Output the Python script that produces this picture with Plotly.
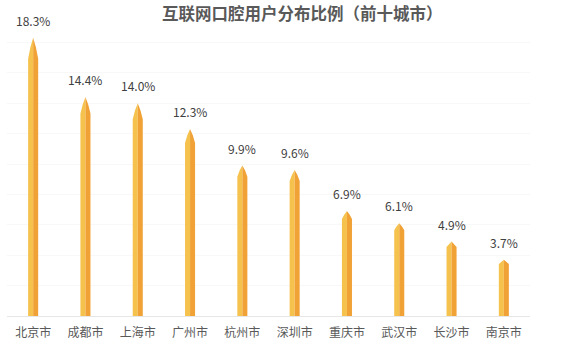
import plotly.graph_objects as go

cities = ["北京市", "成都市", "上海市", "广州市", "杭州市", "深圳市", "重庆市", "武汉市", "长沙市", "南京市"]
shares = [18.3, 14.4, 14.0, 12.3, 9.9, 9.6, 6.9, 6.1, 4.9, 3.7]
value_labels = ["18.3%", "14.4%", "14.0%", "12.3%", "9.9%", "9.6%", "6.9%", "6.1%", "4.9%", "3.7%"]

HALF = 0.096      # half bar width in category units
TIP = 0.075       # fraction of bar height used for the pointed top

def half_polys(side):
    xs, ys = [], []
    for i, v in enumerate(shares):
        s = v * (1 - TIP)
        edge = i - HALF if side == "left" else i + HALF
        mid_x = i + (edge - i) * 0.55
        xs += [i, edge, edge, mid_x, i, i, None]
        ys += [0, 0, s, s + (v - s) * 0.55, v, 0, None]
    return xs, ys

fig = go.Figure()
for side, color in (("left", "#f6c24e"), ("right", "#f0a236")):
    xs, ys = half_polys(side)
    fig.add_trace(go.Scatter(x=xs, y=ys, fill="toself", fillcolor=color,
                             mode="lines", line=dict(width=0, color=color),
                             hoverinfo="skip", showlegend=False))

for i, (v, t) in enumerate(zip(shares, value_labels)):
    fig.add_annotation(x=i, y=v, text=t, showarrow=False, yanchor="bottom",
                       yshift=7, font=dict(size=12, color="#404040",
                                           family="Noto Sans CJK SC"))

fig.update_layout(
    width=568, height=348,
    margin=dict(l=7, r=38, t=12, b=32),
    paper_bgcolor="white", plot_bgcolor="white",
    title=dict(text="<b>互联网口腔用户分布比例（前十城市）</b>",
               x=0.532, xanchor="center", xref="container",
               y=0.96, yanchor="middle", yref="container",
               font=dict(size=16.5, color="#595959", family="Noto Sans CJK SC")),
    xaxis=dict(range=[-0.5, 9.5], tickvals=list(range(len(cities))),
               ticktext=cities, showgrid=False, zeroline=False,
               showline=True, linecolor="#e6e6e6", linewidth=1,
               ticks="", ticklabelstandoff=6,
               tickfont=dict(size=12, color="#595959", family="Noto Sans CJK SC")),
    yaxis=dict(range=[0, 20], dtick=2, showgrid=True, gridcolor="#f8f8f8",
               zeroline=False, showticklabels=False, ticks=""),
)

fig.write_html("out.html")
